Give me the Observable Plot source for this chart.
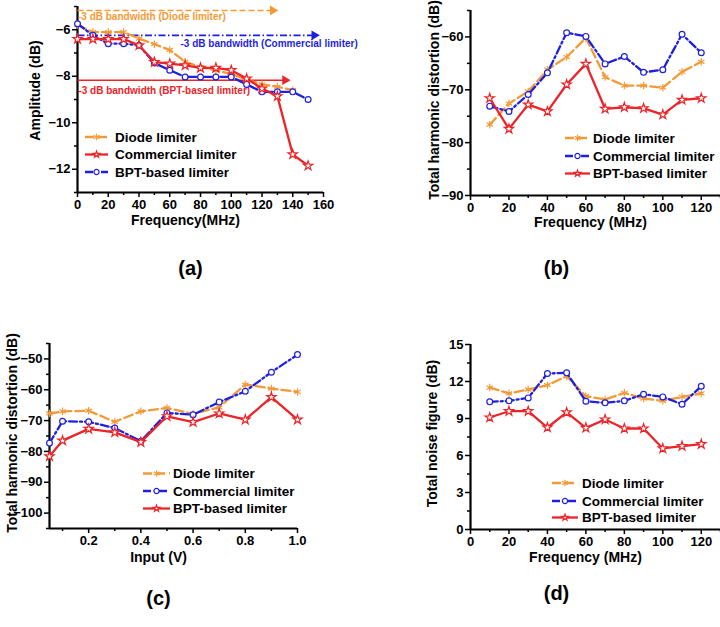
<!DOCTYPE html>
<html><head><meta charset="utf-8">
<script src="https://cdn.jsdelivr.net/npm/d3@7"></script>
<script src="https://cdn.jsdelivr.net/npm/@observablehq/plot@0.6"></script>
<style>
body{margin:0;background:#fff;}
#root{position:relative;width:720px;height:627px;overflow:hidden;background:#fff;}
#root svg{position:absolute;overflow:visible;}
</style></head><body><div id="root"></div>
<script>
// ---------- data ----------
const seriesNames = ["Diode limiter", "Commercial limiter", "BPT-based limiter"];

// (a) amplitude vs frequency
const freqA = [0,10,20,30,40,50,60,70,80,90,100,110,120,130,140,150];
const freqADiode = [0,10,20,30,40,50,60,70,80,90,100,110,120,130,140];
const diodeA = [-5.8,-6.1,-6.1,-6.1,-6.38,-6.62,-6.87,-7.38,-7.6,-7.75,-7.9,-8.15,-8.35,-8.45,-8.6];
const commercialA = [-6.4,-6.4,-6.4,-6.4,-6.67,-7.39,-7.46,-7.53,-7.64,-7.64,-7.74,-8.1,-8.53,-8.86,-11.36,-11.85];
const bptA = [-5.74,-6.24,-6.6,-6.6,-6.67,-7.43,-7.74,-8.03,-8.03,-8.03,-8.03,-8.35,-8.67,-8.67,-8.67,-9.0];
const bwLabels = ["-3 dB bandwidth (Diode limiter)", "-3 dB bandwidth (Commercial limiter)", "-3 dB bandwidth (BPT-based limiter)"];
const bwLevel = [-5.17, -6.24, -8.17];
const bwStart = [0, 0, 0];
const bwEnd = [127, 154, 135];
const bwTextX = [0.3, 67, 0.6];
const bwTextY = [-5.46, -6.6, -8.63];

// (b) THD vs frequency
const freqB = [10,20,30,40,50,60,70,80,90,100,110,120];
const diodeB = [-76.6,-72.6,-70.3,-66.2,-63.8,-60.2,-67.6,-69.2,-69.2,-69.6,-66.6,-64.7];
const commercialB = [-73.1,-74.1,-70.9,-66.8,-59.2,-59.9,-65.1,-63.7,-66.7,-66.2,-59.5,-63.0];
const bptB = [-71.6,-77.4,-72.8,-74.1,-69.0,-65.1,-73.6,-73.3,-73.5,-74.7,-71.9,-71.6];

// (c) THD vs input
const inputC = [0.05,0.1,0.2,0.3,0.4,0.5,0.6,0.7,0.8,0.9,1.0];
const diodeC = [-67.7,-67.0,-66.8,-70.4,-67.0,-65.9,-67.8,-65.7,-58.3,-59.6,-60.7];
const commercialC = [-77.3,-70.2,-70.4,-72.4,-76.7,-67.5,-68.1,-64.0,-60.5,-54.3,-48.6];
const bptC = [-81.6,-76.5,-72.7,-73.8,-77.0,-68.6,-70.5,-67.7,-69.7,-62.4,-69.7];

// (d) noise figure vs frequency
const freqD = [10,20,30,40,50,60,70,80,90,100,110,120];
const diodeD = [11.51,11.03,11.35,11.7,12.43,10.81,10.54,11.08,10.62,10.43,10.75,11.03];
const commercialD = [10.35,10.43,10.67,12.65,12.7,10.4,10.27,10.43,10.97,10.75,10.16,11.62];
const bptD = [9.08,9.59,9.59,8.27,9.49,8.24,8.92,8.19,8.19,6.57,6.76,6.92];

// ---------- styles ----------
const ORANGE = "#f39a36", BLUE = "#1f1fe0", RED = "#ec2327";
const STY = {
  orange: {stroke: ORANGE, dash: "9,4", symbol: "asterisk", fill: "none", r: 3.5},
  blue:   {stroke: BLUE, dash: "8,3,2,3", symbol: "circle", fill: "white", r: 2.9},
  red:    {stroke: RED, dash: null, symbol: "star", fill: "white", r: 2.9}
};
const FONT = "'Liberation Sans', Arial, sans-serif";
const rows = (xs, ys) => xs.map((x, i) => ({x, y: ys[i]}));
const root = document.getElementById("root");

function seriesMarks(xs, ys, key) {
  const s = STY[key];
  const data = rows(xs, ys);
  return [
    Plot.line(data, {x: "x", y: "y", stroke: s.stroke, strokeWidth: 2.3, strokeDasharray: s.dash}),
    Plot.dot(data, {x: "x", y: "y", symbol: s.symbol, r: s.r, stroke: s.stroke, fill: s.fill, strokeWidth: 1.2})
  ];
}

function panel(o) {
  const marks = [
    Plot.axisX({ticks: o.xTicks, tickSize: 5, tickPadding: 2, strokeWidth: 1.5, tickFormat: o.xFormat, label: null, fontSize: 13, fontWeight: "bold"}),
    Plot.axisX({ticks: o.xMinor, tickSize: 3, strokeWidth: 1.5, tickFormat: () => "", label: null}),
    Plot.axisY({ticks: o.yTicks, tickSize: 5, tickPadding: 2, strokeWidth: 1.5, tickFormat: o.yFormat, label: null, fontSize: 13, fontWeight: "bold"}),
    Plot.axisY({ticks: o.yMinor, tickSize: 3, strokeWidth: 1.5, tickFormat: () => "", label: null}),
    Plot.ruleX([o.xDomain[0]], {strokeWidth: 2.2}),
    Plot.ruleY([o.yDomain[0]], {strokeWidth: 2.2}),
    ...(o.extra || []),
    ...o.series,
    Plot.text([o.yLabel], {frameAnchor: "left", textAnchor: "middle", lineAnchor: "middle", dx: o.yLabelDx, dy: o.yLabelDy, rotate: -90, fontSize: 14, fontWeight: "bold", fill: "black"}),
    Plot.text([o.xLabel], {frameAnchor: "bottom", textAnchor: "middle", lineAnchor: "middle", dx: o.xLabelDx, dy: o.xLabelDy, fontSize: 14, fontWeight: "bold", fill: "black"}),
    Plot.text([o.tag], {frameAnchor: "bottom", textAnchor: "middle", lineAnchor: "middle", dx: o.tagDx, dy: o.tagDy, fontSize: 20, fontWeight: "bold", fill: "black"})
  ];
  const svg = Plot.plot({
    width: o.width, height: o.height,
    marginLeft: o.m[0], marginRight: o.m[1], marginTop: o.m[2], marginBottom: o.m[3],
    x: {domain: o.xDomain},
    y: {domain: o.yDomain},
    style: {fontFamily: FONT, color: "black", background: "transparent", overflow: "visible"},
    marks
  });
  svg.style.left = o.left + "px";
  svg.style.top = o.top + "px";
  root.appendChild(svg);
}

const intFmt = d3.format("d");
const range = (a, b, s) => d3.range(a, b + s / 2, s);

// ---------- (a) ----------
const bwRows = bwLabels.map((t, i) => ({t, x1: bwStart[i], x2: bwEnd[i], y: bwLevel[i], tx: bwTextX[i], ty: bwTextY[i]}));
const bwColors = [ORANGE, BLUE, RED];
const bwDash = ["6,3", "7,2.5,1.5,2.5", null];
const annotA = bwRows.flatMap((d, i) => [
  Plot.link([d], {x1: "x1", x2: "x2", y1: "y", y2: "y", stroke: bwColors[i], strokeWidth: 1.6, strokeDasharray: bwDash[i]}),
  Plot.dot([d], {x: "x2", y: "y", symbol: "triangle", rotate: 90, r: 3.6, fill: bwColors[i], stroke: "none"}),
  Plot.text([d], {x: "tx", y: "ty", text: "t", textAnchor: "start", fontSize: 10, fontWeight: "bold", fill: bwColors[i]})
]);

panel({
  left: 0, top: 0, width: 360, height: 300, m: [77, 37, 6, 108],
  xDomain: [0, 160], yDomain: [-13, -5],
  xTicks: range(0, 160, 20), xMinor: range(10, 150, 20), xFormat: intFmt,
  yTicks: [-12, -10, -8, -6], yMinor: [-13, -11, -9, -7, -5], yFormat: intFmt,
  extra: annotA,
  series: [...seriesMarks(freqADiode, diodeA, "orange"), ...seriesMarks(freqA, bptA, "blue"), ...seriesMarks(freqA, commercialA, "red")],
  yLabel: "Amplitude (dB)", yLabelDx: -42, yLabelDy: -9,
  xLabel: "Frequency(MHz)", xLabelDx: -15, xLabelDy: 28,
  tag: "(a)", tagDx: -10, tagDy: 76
});

// ---------- (b) ----------
panel({
  left: 360, top: 0, width: 360, height: 300, m: [110, 0, 10, 105],
  xDomain: [0, 130], yDomain: [-90, -55],
  xTicks: range(0, 120, 20), xMinor: range(10, 130, 20), xFormat: intFmt,
  yTicks: [-90, -80, -70, -60], yMinor: [-85, -75, -65, -55], yFormat: intFmt,
  series: [...seriesMarks(freqB, diodeB, "orange"), ...seriesMarks(freqB, commercialB, "blue"), ...seriesMarks(freqB, bptB, "red")],
  yLabel: "Total harmonic distortion (dB)", yLabelDx: -36, yLabelDy: -3,
  xLabel: "Frequency (MHz)", xLabelDx: -5, xLabelDy: 27,
  tag: "(b)", tagDx: -39, tagDy: 73
});

// ---------- (c) ----------
panel({
  left: 0, top: 300, width: 360, height: 327, m: [49, 63, 43, 99],
  xDomain: [0.05, 1.0], yDomain: [-105, -45],
  xTicks: [0.2, 0.4, 0.6, 0.8, 1.0], xMinor: [0.1, 0.3, 0.5, 0.7, 0.9], xFormat: d3.format(".1f"),
  yTicks: range(-100, -50, 10), yMinor: range(-105, -45, 10), yFormat: intFmt,
  series: [...seriesMarks(inputC, diodeC, "orange"), ...seriesMarks(inputC, commercialC, "blue"), ...seriesMarks(inputC, bptC, "red")],
  yLabel: "Total harmonic distortion (dB)", yLabelDx: -37, yLabelDy: -3,
  xLabel: "Input (V)", xLabelDx: -15, xLabelDy: 29,
  tag: "(c)", tagDx: -15, tagDy: 70
});

// ---------- (d) ----------
panel({
  left: 360, top: 300, width: 360, height: 327, m: [110, 0, 44, 98],
  xDomain: [0, 130], yDomain: [0, 15],
  xTicks: range(0, 120, 20), xMinor: range(10, 130, 20), xFormat: intFmt,
  yTicks: range(0, 15, 3), yMinor: range(1.5, 13.5, 3), yFormat: intFmt,
  series: [...seriesMarks(freqD, diodeD, "orange"), ...seriesMarks(freqD, commercialD, "blue"), ...seriesMarks(freqD, bptD, "red")],
  yLabel: "Total noise figure (dB)", yLabelDx: -38, yLabelDy: -3.5,
  xLabel: "Frequency (MHz)", xLabelDx: -10, xLabelDy: 28,
  tag: "(d)", tagDx: -39, tagDy: 64
});

// ---------- legends (overlay) ----------
const legends = [
  {keys: ["orange", "red", "blue"], x0: 85, x1: 108, tx: 115, ys: [137, 154.5, 172]},
  {keys: ["orange", "blue", "red"], x0: 565, x1: 590, tx: 593, ys: [138, 156, 173.5]},
  {keys: ["orange", "blue", "red"], x0: 143, x1: 170, tx: 173, ys: [473.5, 491, 508.5]},
  {keys: ["orange", "blue", "red"], x0: 552, x1: 578, tx: 582, ys: [483, 501, 517.5]}
];
const symMap = {asterisk: d3.symbolAsterisk, circle: d3.symbolCircle, star: d3.symbolStar};
const symScale = {asterisk: 0.8, circle: 0.8, star: 0.5};
const ov = d3.create("svg").attr("width", 720).attr("height", 627)
  .style("left", "0px").style("top", "0px").style("pointer-events", "none");
legends.forEach(L => {
  L.keys.forEach((key, i) => {
    const s = STY[key], y = L.ys[i];
    const ln = ov.append("line").attr("x1", L.x0).attr("x2", L.x1).attr("y1", y).attr("y2", y)
      .attr("stroke", s.stroke).attr("stroke-width", 2.3);
    if (s.dash) ln.attr("stroke-dasharray", s.dash);
    ov.append("path").attr("transform", `translate(${(L.x0 + L.x1) / 2},${y})`)
      .attr("d", d3.symbol(symMap[s.symbol], Math.PI * s.r * s.r * symScale[s.symbol])())
      .attr("fill", s.fill).attr("stroke", s.stroke).attr("stroke-width", 1.2);
    ov.append("text").attr("x", L.tx).attr("y", y).attr("dy", "0.36em")
      .attr("text-anchor", "start")
      .attr("font-size", 13.5).attr("font-weight", "bold").attr("fill", "black")
      .attr("font-family", FONT).text(seriesNames[i]);
  });
});
root.appendChild(ov.node());
</script></body></html>
